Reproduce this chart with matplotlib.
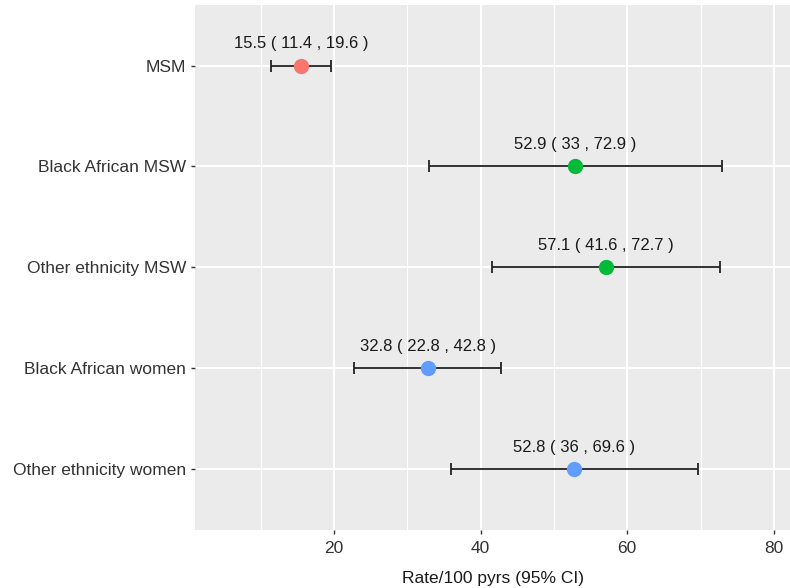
import matplotlib.pyplot as plt
import numpy as np

# data
groups = ["MSM", "Black African MSW", "Other ethnicity MSW",
          "Black African women", "Other ethnicity women"]
rate = [15.5, 52.9, 57.1, 32.8, 52.8]
lower = [11.4, 33, 41.6, 22.8, 36]
upper = [19.6, 72.9, 72.7, 42.8, 69.6]
colours = ["#F8766D", "#00BA38", "#00BA38", "#619CFF", "#619CFF"]

plt.rcParams['font.family'] = ['Liberation Sans', 'DejaVu Sans']

fig = plt.figure(figsize=(7.9, 5.88), dpi=100)
ax = fig.add_axes([195 / 790, 1 - 529.5 / 588, 1 - 195 / 790, (529.5 - 5) / 588])

ax.set_facecolor("#EBEBEB")
for s in ax.spines.values():
    s.set_visible(False)

n = len(groups)
ypos = np.arange(n)[::-1]

ax.set_xlim(1.05, 82.2)
ax.set_ylim(-0.6, n - 1 + 0.6)

ax.set_xticks([20, 40, 60, 80])
ax.set_xticks([10, 30, 50, 70], minor=True)
ax.set_yticks(ypos)
ax.set_yticklabels(groups)
ax.grid(True, which='major', color='white', linewidth=1.5)
ax.grid(True, which='minor', axis='x', color='white', linewidth=0.8)
ax.set_axisbelow(True)
ax.tick_params(axis='both', which='major', length=3, width=1, color='#333333',
               labelsize=12.5, labelcolor='#333333')
ax.tick_params(axis='x', which='major', pad=5)
ax.tick_params(axis='x', which='minor', length=0)

for i in range(n):
    y = ypos[i]
    ax.errorbar(rate[i], y, xerr=[[rate[i] - lower[i]], [upper[i] - rate[i]]],
                fmt='none', ecolor='#222222', elinewidth=1.3, capsize=4,
                capthick=1.3, zorder=2)
    ax.plot(rate[i], y, 'o', color=colours[i], markersize=10, zorder=3)
    label = "{:g} ( {:g} , {:g} )".format(rate[i], lower[i], upper[i])
    ax.annotate(label, (rate[i], y), xytext=(0, 15.5), textcoords='offset points',
                ha='center', va='center', fontsize=12, color='#1A1A1A')

ax.set_xlabel("Rate/100 pyrs (95% CI)", fontsize=12.5, color='#1A1A1A', labelpad=11)

fig.savefig("out.png", dpi=100)
